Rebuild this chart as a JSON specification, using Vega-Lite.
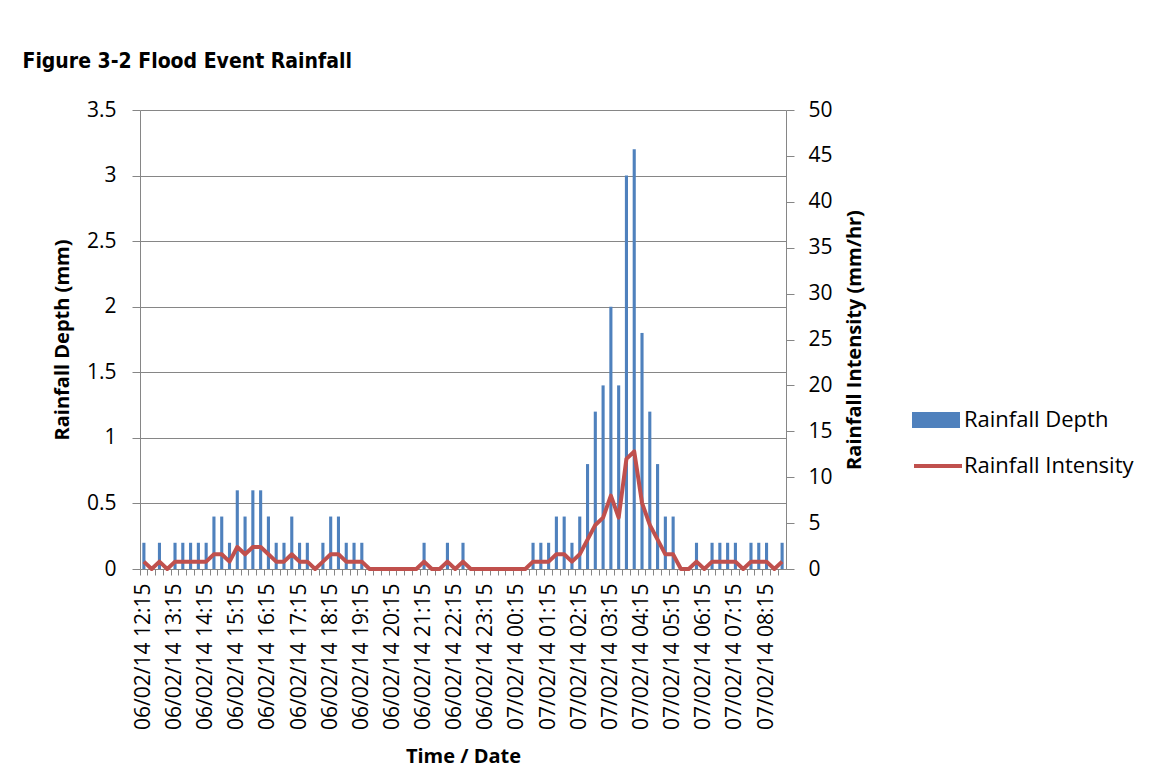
{
  "$schema": "https://vega.github.io/schema/vega-lite/v6.json",
  "width": 646,
  "height": 459,
  "autosize": {"type": "none"},
  "padding": {"left": 140, "top": 110, "right": 373, "bottom": 211},
  "background": "white",
  "title": {
    "text": "Figure 3-2 Flood Event Rainfall",
    "anchor": "start",
    "dx": -30,
    "offset": 10,
    "baseline": "alphabetic",
    "font": "DejaVu Sans Condensed, Liberation Sans Narrow, Liberation Sans, sans-serif",
    "fontSize": 21,
    "fontWeight": "bold",
    "color": "black"
  },
  "config": {
    "view": {"stroke": null},
    "axis": {
      "labelFont": "Open Sans",
      "labelFontSize": 21,
      "labelColor": "black",
      "titleFont": "Open Sans",
      "titleFontWeight": "bold",
      "titleFontSize": 20,
      "titleColor": "black",
      "domainColor": "#868686",
      "tickColor": "#868686",
      "gridColor": "#868686",
      "gridOpacity": 1
    },
    "legend": {
      "labelFont": "Open Sans",
      "labelFontSize": 22,
      "labelColor": "black",
      "labelLimit": 400
    }
  },
  "data": {
    "values": [
      {"time": "06/02/14 12:15", "depth": 0.2, "intensity": 0.8},
      {"time": "06/02/14 12:30", "depth": 0, "intensity": 0},
      {"time": "06/02/14 12:45", "depth": 0.2, "intensity": 0.8},
      {"time": "06/02/14 13:00", "depth": 0, "intensity": 0},
      {"time": "06/02/14 13:15", "depth": 0.2, "intensity": 0.8},
      {"time": "06/02/14 13:30", "depth": 0.2, "intensity": 0.8},
      {"time": "06/02/14 13:45", "depth": 0.2, "intensity": 0.8},
      {"time": "06/02/14 14:00", "depth": 0.2, "intensity": 0.8},
      {"time": "06/02/14 14:15", "depth": 0.2, "intensity": 0.8},
      {"time": "06/02/14 14:30", "depth": 0.4, "intensity": 1.6},
      {"time": "06/02/14 14:45", "depth": 0.4, "intensity": 1.6},
      {"time": "06/02/14 15:00", "depth": 0.2, "intensity": 0.8},
      {"time": "06/02/14 15:15", "depth": 0.6, "intensity": 2.4},
      {"time": "06/02/14 15:30", "depth": 0.4, "intensity": 1.6},
      {"time": "06/02/14 15:45", "depth": 0.6, "intensity": 2.4},
      {"time": "06/02/14 16:00", "depth": 0.6, "intensity": 2.4},
      {"time": "06/02/14 16:15", "depth": 0.4, "intensity": 1.6},
      {"time": "06/02/14 16:30", "depth": 0.2, "intensity": 0.8},
      {"time": "06/02/14 16:45", "depth": 0.2, "intensity": 0.8},
      {"time": "06/02/14 17:00", "depth": 0.4, "intensity": 1.6},
      {"time": "06/02/14 17:15", "depth": 0.2, "intensity": 0.8},
      {"time": "06/02/14 17:30", "depth": 0.2, "intensity": 0.8},
      {"time": "06/02/14 17:45", "depth": 0, "intensity": 0},
      {"time": "06/02/14 18:00", "depth": 0.2, "intensity": 0.8},
      {"time": "06/02/14 18:15", "depth": 0.4, "intensity": 1.6},
      {"time": "06/02/14 18:30", "depth": 0.4, "intensity": 1.6},
      {"time": "06/02/14 18:45", "depth": 0.2, "intensity": 0.8},
      {"time": "06/02/14 19:00", "depth": 0.2, "intensity": 0.8},
      {"time": "06/02/14 19:15", "depth": 0.2, "intensity": 0.8},
      {"time": "06/02/14 19:30", "depth": 0, "intensity": 0},
      {"time": "06/02/14 19:45", "depth": 0, "intensity": 0},
      {"time": "06/02/14 20:00", "depth": 0, "intensity": 0},
      {"time": "06/02/14 20:15", "depth": 0, "intensity": 0},
      {"time": "06/02/14 20:30", "depth": 0, "intensity": 0},
      {"time": "06/02/14 20:45", "depth": 0, "intensity": 0},
      {"time": "06/02/14 21:00", "depth": 0, "intensity": 0},
      {"time": "06/02/14 21:15", "depth": 0.2, "intensity": 0.8},
      {"time": "06/02/14 21:30", "depth": 0, "intensity": 0},
      {"time": "06/02/14 21:45", "depth": 0, "intensity": 0},
      {"time": "06/02/14 22:00", "depth": 0.2, "intensity": 0.8},
      {"time": "06/02/14 22:15", "depth": 0, "intensity": 0},
      {"time": "06/02/14 22:30", "depth": 0.2, "intensity": 0.8},
      {"time": "06/02/14 22:45", "depth": 0, "intensity": 0},
      {"time": "06/02/14 23:00", "depth": 0, "intensity": 0},
      {"time": "06/02/14 23:15", "depth": 0, "intensity": 0},
      {"time": "06/02/14 23:30", "depth": 0, "intensity": 0},
      {"time": "06/02/14 23:45", "depth": 0, "intensity": 0},
      {"time": "07/02/14 00:00", "depth": 0, "intensity": 0},
      {"time": "07/02/14 00:15", "depth": 0, "intensity": 0},
      {"time": "07/02/14 00:30", "depth": 0, "intensity": 0},
      {"time": "07/02/14 00:45", "depth": 0.2, "intensity": 0.8},
      {"time": "07/02/14 01:00", "depth": 0.2, "intensity": 0.8},
      {"time": "07/02/14 01:15", "depth": 0.2, "intensity": 0.8},
      {"time": "07/02/14 01:30", "depth": 0.4, "intensity": 1.6},
      {"time": "07/02/14 01:45", "depth": 0.4, "intensity": 1.6},
      {"time": "07/02/14 02:00", "depth": 0.2, "intensity": 0.8},
      {"time": "07/02/14 02:15", "depth": 0.4, "intensity": 1.6},
      {"time": "07/02/14 02:30", "depth": 0.8, "intensity": 3.2},
      {"time": "07/02/14 02:45", "depth": 1.2, "intensity": 4.8},
      {"time": "07/02/14 03:00", "depth": 1.4, "intensity": 5.6},
      {"time": "07/02/14 03:15", "depth": 2.0, "intensity": 8.0},
      {"time": "07/02/14 03:30", "depth": 1.4, "intensity": 5.6},
      {"time": "07/02/14 03:45", "depth": 3.0, "intensity": 12.0},
      {"time": "07/02/14 04:00", "depth": 3.2, "intensity": 12.8},
      {"time": "07/02/14 04:15", "depth": 1.8, "intensity": 7.2},
      {"time": "07/02/14 04:30", "depth": 1.2, "intensity": 4.8},
      {"time": "07/02/14 04:45", "depth": 0.8, "intensity": 3.2},
      {"time": "07/02/14 05:00", "depth": 0.4, "intensity": 1.6},
      {"time": "07/02/14 05:15", "depth": 0.4, "intensity": 1.6},
      {"time": "07/02/14 05:30", "depth": 0, "intensity": 0},
      {"time": "07/02/14 05:45", "depth": 0, "intensity": 0},
      {"time": "07/02/14 06:00", "depth": 0.2, "intensity": 0.8},
      {"time": "07/02/14 06:15", "depth": 0, "intensity": 0},
      {"time": "07/02/14 06:30", "depth": 0.2, "intensity": 0.8},
      {"time": "07/02/14 06:45", "depth": 0.2, "intensity": 0.8},
      {"time": "07/02/14 07:00", "depth": 0.2, "intensity": 0.8},
      {"time": "07/02/14 07:15", "depth": 0.2, "intensity": 0.8},
      {"time": "07/02/14 07:30", "depth": 0, "intensity": 0},
      {"time": "07/02/14 07:45", "depth": 0.2, "intensity": 0.8},
      {"time": "07/02/14 08:00", "depth": 0.2, "intensity": 0.8},
      {"time": "07/02/14 08:15", "depth": 0.2, "intensity": 0.8},
      {"time": "07/02/14 08:30", "depth": 0, "intensity": 0},
      {"time": "07/02/14 08:45", "depth": 0.2, "intensity": 0.8}
    ]
  },
  "layer": [
    {
      "mark": {"type": "bar", "width": {"band": 0.4}},
      "encoding": {
        "x": {
          "field": "time",
          "type": "ordinal",
          "sort": null,
          "scale": {"paddingInner": 0, "paddingOuter": 0},
          "axis": {
            "orient": "bottom",
            "title": "Time / Date",
            "labelAngle": -90,
            "labelExpr": "indexof(datum.value, ':15') > 0 ? datum.value : ''",
            "labelOverlap": false,
            "ticks": false,
            "labelPadding": 14,
            "titlePadding": 17
          }
        },
        "y": {
          "field": "depth",
          "type": "quantitative",
          "scale": {"domain": [0, 3.5], "nice": false},
          "axis": {
            "title": "Rainfall Depth (mm)",
            "values": [0, 0.5, 1, 1.5, 2, 2.5, 3, 3.5],
            "format": "~g",
            "grid": true,
            "tickSize": 8,
            "labelPadding": 16,
            "titlePadding": 14
          }
        },
        "fill": {
          "datum": "Rainfall Depth",
          "scale": {"domain": ["Rainfall Depth"], "range": ["#4F81BD"]},
          "legend": {
            "orient": "none",
            "legendX": 776,
            "legendY": 290,
            "title": null,
            "symbolSize": 1600,
            "symbolType": "M-1.2,-0.4H1.2V0.4H-1.2Z",
            "symbolStrokeWidth": 0,
            "labelOffset": 8
          }
        }
      }
    },
    {
      "mark": {"type": "line", "strokeWidth": 4, "strokeJoin": "round"},
      "encoding": {
        "x": {
          "field": "time",
          "type": "ordinal",
          "sort": null,
          "axis": {
            "orient": "bottom",
            "title": null,
            "labels": false,
            "domain": false,
            "grid": false,
            "ticks": true,
            "tickSize": 6,
            "bandPosition": 0
          }
        },
        "y": {
          "field": "intensity",
          "type": "quantitative",
          "scale": {"domain": [0, 50], "nice": false},
          "axis": {
            "orient": "right",
            "title": "Rainfall Intensity (mm/hr)",
            "titleAngle": 270,
            "titleBaseline": "top",
            "values": [0, 5, 10, 15, 20, 25, 30, 35, 40, 45, 50],
            "grid": false,
            "tickSize": 8,
            "labelPadding": 14,
            "titlePadding": 12
          }
        },
        "stroke": {
          "datum": "Rainfall Intensity",
          "scale": {"domain": ["Rainfall Intensity"], "range": ["#C0504D"]},
          "legend": {
            "orient": "none",
            "legendX": 776,
            "legendY": 334,
            "title": null,
            "symbolSize": 1600,
            "symbolType": "M-1.2,0H1.2",
            "symbolStrokeWidth": 4,
            "labelOffset": 4
          }
        }
      }
    }
  ],
  "resolve": {"scale": {"y": "independent"}, "axis": {"x": "independent"}}
}
